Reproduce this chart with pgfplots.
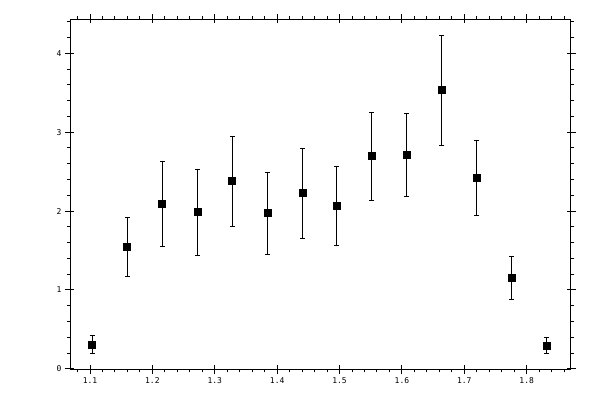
\documentclass[border=0pt]{standalone}
\usepackage{fontspec}
\setmonofont{DejaVu Sans Mono}
\usepackage{pgfplots}
\pgfplotsset{compat=1.18}

\pgfplotstableread{
x       y      e
1.1037  0.308  0.112
1.1599  1.544  0.378
1.2161  2.089  0.538
1.2723  1.987  0.545
1.3284  2.380  0.571
1.3846  1.975  0.519
1.4408  2.228  0.570
1.4954  2.063  0.500
1.5516  2.696  0.557
1.6078  2.709  0.530
1.6640  3.532  0.697
1.7202  2.418  0.475
1.7763  1.152  0.272
1.8325  0.291  0.101
}\datatable

\begin{document}
\begin{tikzpicture}
\useasboundingbox (-70bp,-30.7bp) rectangle (530bp,369.3bp);
\pgfplotsset{
  base/.style={
    at={(0,0)}, anchor=south west,
    scale only axis, width=500.7bp, height=350bp,
    xmin=1.0679, xmax=1.8706,
    ymin=-0.005, ymax=4.43,
    xtick={1.1,1.2,1.3,1.4,1.5,1.6,1.7,1.8},
    ytick={0,1,2,3,4},
    every tick/.style={black, line width=1bp},
    axis line style={line width=1bp},
  }
}
\begin{axis}[
  base,
  tick align=outside,
  major tick length=5bp,
  minor tick length=3bp,
  minor xtick={1.08,1.10,...,1.87},
  minor ytick={0,0.2,...,4.41},
  tick label style={font=\ttfamily\fontsize{8bp}{9bp}\selectfont},
  /pgf/number format/assume math mode=true,
  /pgf/number format/fixed,
  /pgf/number format/precision=1,
]
\addplot+[
  only marks, black,
  mark=square*, mark size=3.5bp,
  mark options={solid, fill=black, line width=0pt},
  error bars/.cd,
    y dir=both, y explicit,
    error mark=-,
    error bar style={line width=1bp, black},
    error mark options={rotate=90, mark size=2.5bp, line width=1bp, black},
] table[x=x, y=y, y error=e] {\datatable};
\end{axis}
\begin{axis}[
  base,
  tick align=inside,
  major tick length=4bp,
  minor xtick={}, minor ytick={},
  xticklabels={}, yticklabels={},
  axis line style={draw=none},
]
\end{axis}
\end{tikzpicture}
\end{document}
